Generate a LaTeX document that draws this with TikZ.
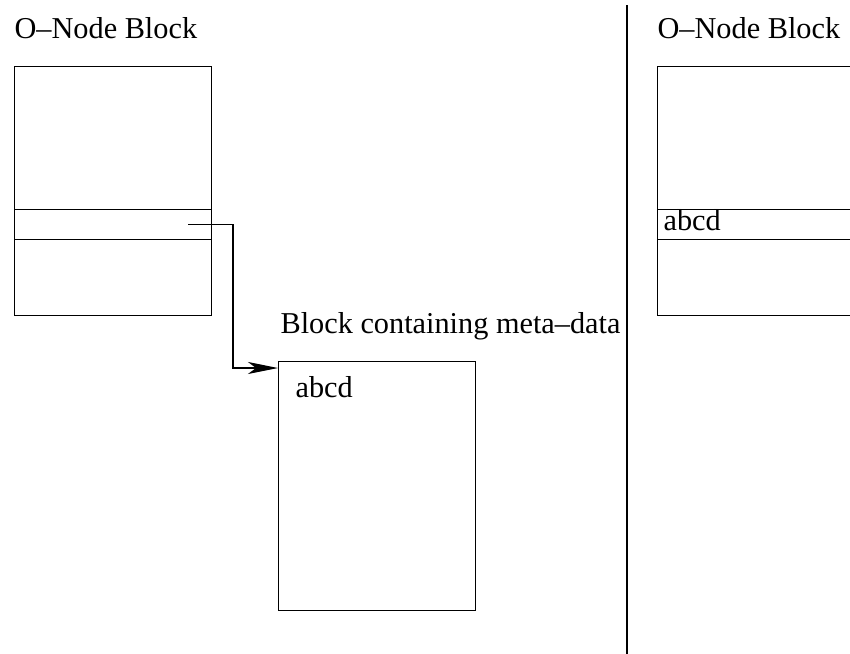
\documentclass[tikz,border=0pt]{standalone}
\usepackage{fontspec}
\setmainfont{Liberation Serif}
\usetikzlibrary{arrows.meta}
\begin{document}
\begin{tikzpicture}[x=1pt,y=-1pt,line width=1.1pt,
  box/.style={draw,rectangle,inner sep=0pt,anchor=north west},
  lbl/.style={anchor=base west,inner sep=0pt,font=\fontsize{30.3}{36}\selectfont},
  tip/.style={-{Stealth[length=30pt,width=12pt,inset=8pt]}}]
\clip (0,0) rectangle (850,653);
\useasboundingbox (0,0) rectangle (850,653);
% left O-Node block
\node[lbl] (t1) at (14,38) {O--Node Block};
\node[box,minimum width=197pt,minimum height=249pt] (b1) at (14,66) {};
\node[box,minimum width=197pt,minimum height=30pt] (s1) at (14,209) {};
\coordinate (p0) at (188,224.5);
% metadata block
\node[lbl] (t2) at (280,333) {Block containing meta--data};
\node[box,minimum width=197pt,minimum height=249pt] (b2) at (278,361) {};
\node[lbl] (a2) at (295,397) {abcd};
\coordinate (p1) at (233,224.5);
\draw[tip] (p0) -- (p1) |- ([yshift=-7pt]b2.north west);
% divider
\coordinate (d0) at (627,5);
\coordinate (d1) at (627,660);
\draw (d0) -- (d1);
% right O-Node block
\node[lbl] (t3) at (657,38) {O--Node Block};
\node[box,minimum width=260pt,minimum height=249pt] (b3) at (657,66) {};
\node[box,minimum width=260pt,minimum height=30pt] (s3) at (657,209) {};
\node[lbl] (a3) at (663,230) {abcd};
\end{tikzpicture}
\end{document}
